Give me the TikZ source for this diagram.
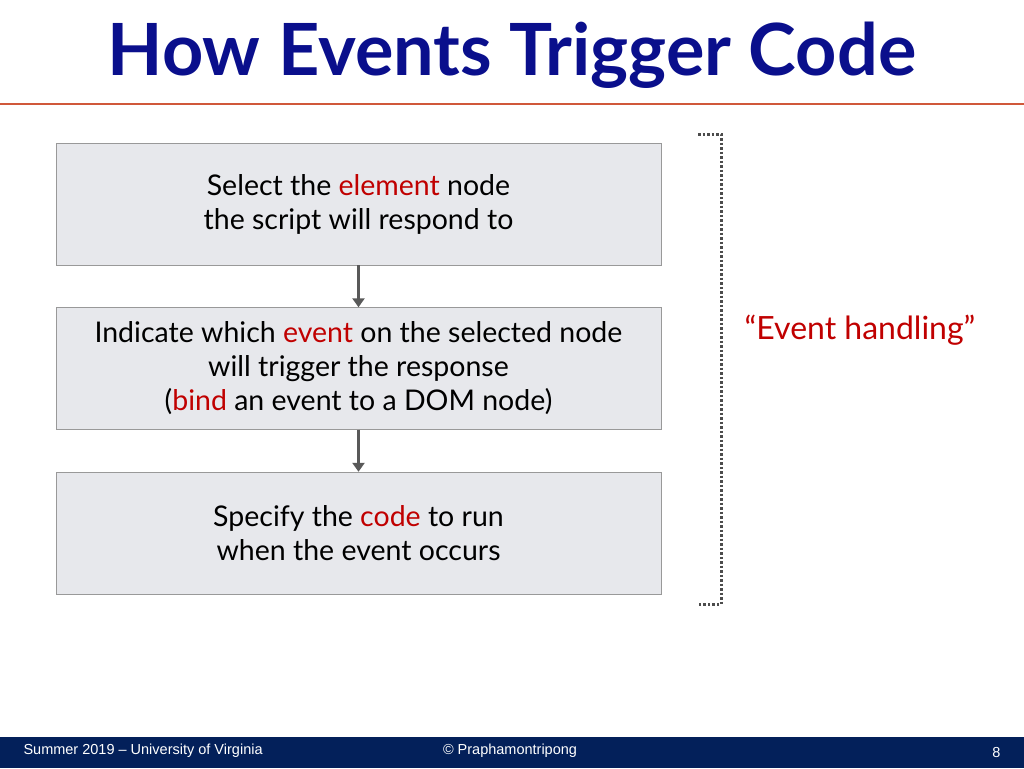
\documentclass[tikz,border=0pt]{standalone}
\usepackage{fontspec}
\setmainfont{Lato}
\newfontfamily\footfont{Liberation Sans}
\usetikzlibrary{arrows.meta}
\definecolor{titleblue}{HTML}{0A0F8C}
\definecolor{rulered}{HTML}{D0583A}
\definecolor{footblue}{HTML}{03205A}
\definecolor{boxfill}{HTML}{E7E8EC}
\definecolor{keyred}{HTML}{C00000}
\tikzset{
    stepbox/.style={draw=gray!80, fill=boxfill, minimum width=605pt, minimum height=122pt,
        align=center, font=\fontsize{28.5}{34}\selectfont, inner sep=0pt},
    flow/.style={draw=black!65, line width=3.5pt, -{Triangle[length=9pt,width=12pt]}}
}
\newcommand{\kw}[1]{\textcolor{keyred}{#1}}
\begin{document}
\begin{tikzpicture}[x=1pt,y=-1pt]
    \useasboundingbox (0,0) rectangle (1024,768);
    \node[titleblue, font=\fontsize{72}{74}\selectfont\bfseries] (title) at (512,55) {How Events Trigger Code};
    \draw[rulered, line width=2.5pt] (0,104) -- (1024,104);

    \node[stepbox] (select) at (358.5,204) {Select the \kw{element} node\\the script will respond to};
    \node[stepbox] (bind) at (358.5,368.5) {Indicate which \kw{event} on the selected node\\will trigger the response\\(\kw{bind} an event to a DOM node)};
    \node[stepbox] (code) at (358.5,533) {Specify the \kw{code} to run\\when the event occurs};

    \draw[flow] (select) -- (bind);
    \draw[flow] (bind) -- (code);

    % bracket
    \coordinate (bt) at (698,134);
    \coordinate (bb) at (698,604);
    \draw[black!70, line width=3pt, dash pattern=on 2.5pt off 2pt] (bt) -| (721,604) -- (bb);
    \node[keyred, font=\fontsize{32}{34}\selectfont] (handling) at (860,330) {``Event handling''};

    % footer
    \fill[footblue] (0,737) rectangle (1024,768);
    \node[white, font=\footfont\fontsize{14.5}{16}\selectfont, anchor=west] (term) at (20,751) {Summer 2019 \textendash{} University of Virginia};
    \node[white, font=\footfont\fontsize{14.5}{16}\selectfont] (copy) at (510,751) {\textcopyright{} Praphamontripong};
    \node[white, font=\footfont\fontsize{14.5}{16}\selectfont, anchor=east] (page) at (1004,752) {8};
\end{tikzpicture}
\end{document}
